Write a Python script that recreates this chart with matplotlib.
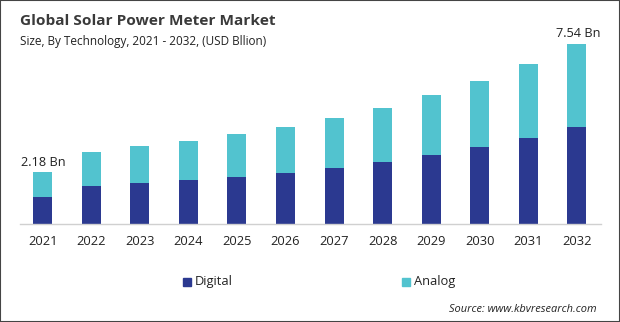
import numpy as np
import matplotlib
matplotlib.use("Agg")
import matplotlib.pyplot as plt
from matplotlib.patches import Rectangle

# values in USD billion
years = ["2021", "2022", "2023", "2024", "2025", "2026",
         "2027", "2028", "2029", "2030", "2031", "2032"]
digital = [1.13, 1.59, 1.72, 1.84, 1.97, 2.13, 2.34, 2.59, 2.89, 3.22, 3.60, 4.06]
totals = [2.18, 3.01, 3.26, 3.47, 3.77, 4.06, 4.44, 4.85, 5.40, 5.98, 6.69, 7.54]
analog = [t - d for t, d in zip(totals, digital)]

C_DIG = "#2B3990"
C_ANA = "#52C3CF"

plt.rcParams["font.family"] = ["Open Sans", "DejaVu Sans"]

fig = plt.figure(figsize=(6.2, 3.22), dpi=100)
ax = fig.add_axes([20 / 620, 1 - 224 / 322, 581 / 620, 184 / 322])

x = np.arange(len(years))
ax.bar(x, digital, width=0.39, color=C_DIG, label="Digital")
ax.bar(x, analog, width=0.39, bottom=digital, color=C_ANA, label="Analog")

ax.set_xlim(-0.47, 11.5)
ax.set_ylim(0, 184 / 23.9)
ax.set_xticks(x)
ax.set_xticklabels(years, fontsize=9.3, color="#222222")
ax.tick_params(axis="x", length=0, pad=8)
ax.set_yticks([])
for s in ["top", "right", "left"]:
    ax.spines[s].set_visible(False)
ax.spines["bottom"].set_color("#D0D0D0")
ax.spines["bottom"].set_linewidth(1)

ax.text(x[0] - 0.45, totals[0] + 0.12, f"{totals[0]:.2f} Bn", fontsize=9.2,
        ha="left", va="bottom", color="#222222")
ax.text(x[-1] + 0.5, totals[-1] + 0.15, f"{totals[-1]:.2f} Bn", fontsize=9.2,
        ha="right", va="bottom", color="#222222")

fig.text(20 / 620, 1 - 21 / 322, "Global Solar Power Meter Market",
         fontsize=11.1, fontweight="bold", color="#3a3a3a", va="center")
fig.text(20 / 620, 1 - 42 / 322, "Size, By Technology, 2021 - 2032, (USD Bllion)",
         fontsize=8.5, color="#222222", va="center")

# legend drawn as squares + labels
fig.patches.append(Rectangle((183 / 620, 1 - 286 / 322), 8 / 620, 8 / 322,
                             transform=fig.transFigure, color=C_DIG))
fig.text(195 / 620, 1 - 282 / 322, "Digital", fontsize=9.3, va="center", color="#222222")
fig.patches.append(Rectangle((402 / 620, 1 - 286 / 322), 8 / 620, 8 / 322,
                             transform=fig.transFigure, color=C_ANA))
fig.text(414 / 620, 1 - 282 / 322, "Analog", fontsize=9.3, va="center", color="#222222")

fig.text(597 / 620, 1 - 310 / 322, "Source: www.kbvresearch.com", fontsize=7.9,
         style="italic", ha="right", va="center", color="#222222")

# thin frame around the picture
fig.patches.append(Rectangle((0, 0), 1, 1, transform=fig.transFigure,
                             fill=False, edgecolor="#444444", linewidth=1.5))

fig.savefig("out.png", dpi=100)
